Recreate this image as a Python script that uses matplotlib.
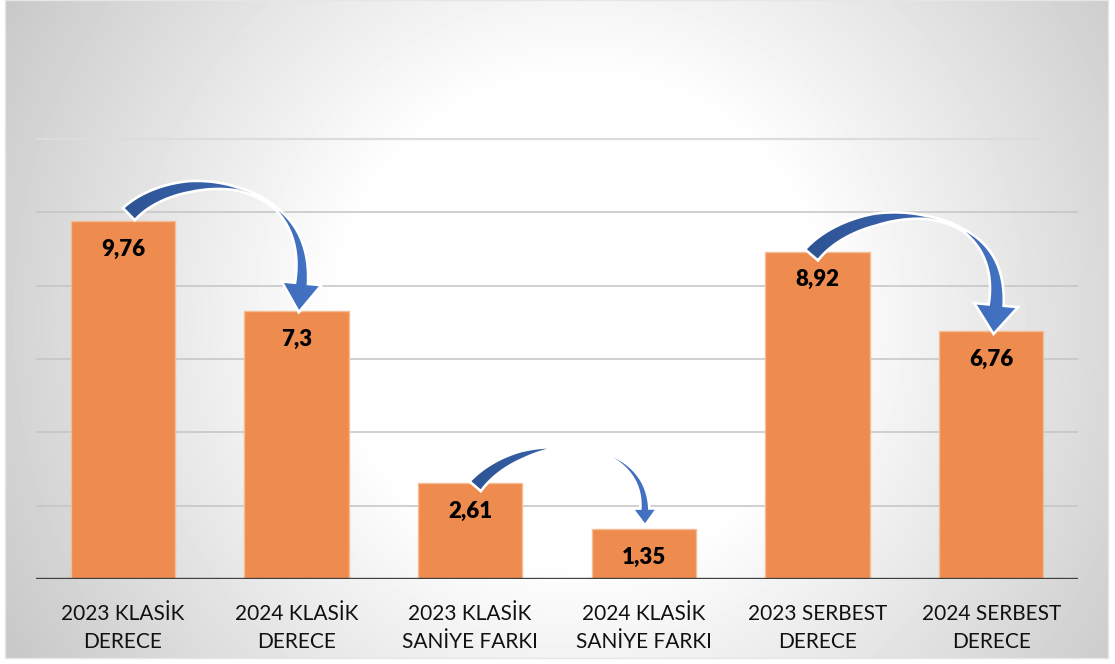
import numpy as np
import matplotlib
matplotlib.use("Agg")
import matplotlib.pyplot as plt
from matplotlib.patches import Polygon
from matplotlib.colors import LinearSegmentedColormap

# data
categories = ["2023 KLASİK\nDERECE", "2024 KLASİK\nDERECE",
              "2023 KLASİK\nSANİYE FARKI", "2024 KLASİK\nSANİYE FARKI",
              "2023 SERBEST\nDERECE", "2024 SERBEST\nDERECE"]
values = [9.76, 7.3, 2.61, 1.35, 8.92, 6.76]
value_labels = ["9,76", "7,3", "2,61", "1,35", "8,92", "6,76"]
arrow_pairs = [(0, 1), (2, 3), (4, 5)]

plt.rcParams["font.family"] = ["Lato", "DejaVu Sans"]

W, H = 1115, 664
fig = plt.figure(figsize=(W / 100, H / 100), dpi=100)
fig.patch.set_facecolor("white")

# panel background with radial gradient
px0, px1, py0, py1 = 5, 1108, 0, 658
bg = fig.add_axes([px0 / W, (H - py1) / H, (px1 - px0) / W, (py1 - py0) / H])
yy, xx = np.mgrid[py0:py1, px0:px1]
r = np.hypot(xx - 580, (yy - 320) * 1.0)
shade = 255 - 55 * np.clip((r - 240) / 420, 0, 1)
bg.imshow(shade / 255, cmap="gray", vmin=0, vmax=1, aspect="auto",
          interpolation="bilinear")
bg.set_xticks([])
bg.set_yticks([])
for s in bg.spines.values():
    s.set_color("#e6e6e6")
    s.set_linewidth(1)

# main axes: y=0 at 579px, 36.67 px per unit
ax_l, ax_r, ax_b = 36, 1078, 579
unit = 36.67
ymax = 14
ax = fig.add_axes([ax_l / W, (H - ax_b) / H, (ax_r - ax_l) / W, ymax * unit / H])
ax.patch.set_alpha(0)
ax.set_xlim(-0.5, len(values) - 0.5)
ax.set_ylim(0, ymax)
ax.set_autoscale_on(False)

for g in [2, 4, 6, 8, 10]:
    ax.axhline(g, color="#c4c4c4", lw=1.1, zorder=1)
ax.axhline(12, color="#dcdcdc", lw=1.6, zorder=1)

x = np.arange(len(values))
ax.bar(x, values, width=0.6, color="#ee8c4f", edgecolor="#f5bd96",
       linewidth=1, zorder=2)
ax.axhline(0, color="#404040", lw=2.4, zorder=3)

for xi, v, lab in zip(x, values, value_labels):
    ax.text(xi, v - 0.76, lab, ha="center", va="center", fontsize=16,
            fontweight="heavy", color="black", zorder=4)

ax.set_xticks(x)
ax.set_xticklabels(categories, fontsize=15, color="#111111", linespacing=1.5)
ax.tick_params(axis="x", length=0, pad=18)
ax.tick_params(axis="y", left=False, labelleft=False)
for s in ax.spines.values():
    s.set_visible(False)

arrow_cmap = LinearSegmentedColormap.from_list("arr", ["#2d5393", "#4574c6"])


def draw_arrow(i, j, tail_off, base_off, k0, ang0, k3, tilt, hl, hw, tw, ww):
    T = ax.transData.transform
    # offsets given as (dx, dy) in pixels, dy downward
    p0 = T((i, values[i])) + np.array([tail_off[0], -tail_off[1]])
    p3 = T((j, values[j])) + np.array([base_off[0], -base_off[1]])
    a = np.radians(ang0)
    p1 = p0 + k0 * np.array([np.cos(a), np.sin(a)])
    d = np.array([tilt, -1.0])
    d = d / np.hypot(*d)
    p2 = p3 - k3 * d
    t = np.linspace(0, 1, 160)[:, None]
    c = (1 - t) ** 3 * p0 + 3 * (1 - t) ** 2 * t * p1 + 3 * (1 - t) * t ** 2 * p2 + t ** 3 * p3
    tan = np.gradient(c, axis=0)
    tan = tan / np.hypot(tan[:, 0], tan[:, 1])[:, None]
    nrm = np.column_stack([-tan[:, 1], tan[:, 0]])
    w = np.interp(t[:, 0], tw, ww)[:, None] / 2
    left = c + nrm * w
    right = c - nrm * w
    dend = tan[-1]
    nend = nrm[-1]
    tip = p3 + dend * hl
    wing_l = p3 + nend * hw / 2
    wing_r = p3 - nend * hw / 2
    pts = np.vstack([left, wing_l, tip, wing_r, right[::-1]])
    pts = ax.transData.inverted().transform(pts)
    clip = Polygon(pts, closed=True, transform=ax.transData)
    x0, x1 = pts[:, 0].min(), pts[:, 0].max()
    y0, y1 = pts[:, 1].min(), pts[:, 1].max()
    grad = np.linspace(0, 1, 256)[None, :]
    im = ax.imshow(grad, extent=(x0, x1, y0, y1), cmap=arrow_cmap,
                   aspect="auto", zorder=5, interpolation="bilinear")
    im.set_clip_path(clip)
    ax.add_patch(Polygon(pts, closed=True, facecolor="none", edgecolor="white",
                         lw=1.9, joinstyle="miter", zorder=6))


draw_arrow(*arrow_pairs[0], tail_off=(6, -7), base_off=(5, -28), k0=70, ang0=45,
           k3=110, tilt=-0.1, hl=29, hw=40,
           tw=[0, 0.3, 0.5, 0.68, 0.85, 1], ww=[17, 11, 3, 2, 8, 13])
draw_arrow(*arrow_pairs[1], tail_off=(5, 3), base_off=(1, -21), k0=75, ang0=50,
           k3=75, tilt=0.0, hl=17, hw=25,
           tw=[0, 0.25, 0.42, 0.5, 0.7, 1], ww=[15, 8, 0, 0, 3, 9])
draw_arrow(*arrow_pairs[2], tail_off=(-6, 3), base_off=(5, -26), k0=75, ang0=50,
           k3=110, tilt=-0.1, hl=29, hw=44,
           tw=[0, 0.3, 0.5, 0.66, 0.85, 1], ww=[17, 12, 3, 2, 10, 15])

fig.savefig("out.png", dpi=100, facecolor="white")
